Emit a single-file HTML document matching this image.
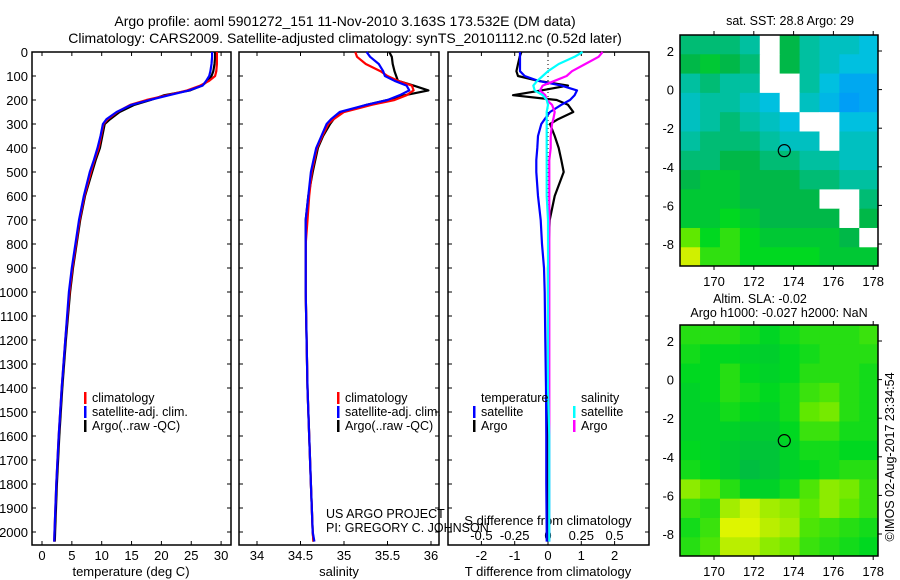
<!DOCTYPE html>
<html><head><meta charset="utf-8"><style>
body{margin:0;background:#fff;}
svg{display:block;font-family:"Liberation Sans",sans-serif;}
</style></head><body>
<svg id="c" width="900" height="580" viewBox="0 0 900 580" xmlns="http://www.w3.org/2000/svg">
<text x="345" y="26" font-size="14" text-anchor="middle">Argo profile: aoml 5901272_151 11-Nov-2010 3.163S 173.532E (DM data)</text>
<text x="345" y="43" font-size="14" text-anchor="middle">Climatology: CARS2009. Satellite-adjusted climatology: synTS_20101112.nc (0.52d later)</text>
<g id="g"></g>
</svg>
<script>
// ---- data ----
const depths=[0,20,50,80,100,120,140,160,180,200,220,250,280,300,350,400,450,500,600,700,800,900,1000,1200,1400,1600,1800,2000,2040];
const tempArgo=[29.0,29.0,28.9,28.7,28.4,27.8,26.8,24.8,20.5,18.2,15.5,13.0,11.4,10.5,10.1,9.7,9.0,8.4,7.2,6.4,5.8,5.2,4.7,4.0,3.4,2.9,2.5,2.2,2.15];
const tempClim=[29.3,29.3,29.3,29.2,29.0,28.0,26.5,24.3,21.0,17.5,14.8,12.6,11.0,10.3,9.9,9.5,8.8,8.2,7.1,6.3,5.7,5.1,4.6,3.9,3.3,2.8,2.4,2.1,2.05];
const tempSat=[28.5,28.5,28.4,28.2,28.0,27.5,26.9,24.6,21.3,18.0,15.0,12.5,10.8,10.2,9.8,9.3,8.7,8.0,7.0,6.2,5.6,5.0,4.5,3.9,3.3,2.8,2.4,2.1,2.05];
const salArgo=[35.52,35.55,35.56,35.58,35.60,35.62,35.80,35.97,35.70,35.50,35.26,34.98,34.88,34.84,34.76,34.70,34.67,34.64,34.59,34.56,34.56,34.56,34.56,34.57,34.58,34.60,34.62,34.64,34.65];
const salClim=[35.13,35.15,35.25,35.42,35.50,35.62,35.78,35.80,35.72,35.58,35.32,35.0,34.88,34.82,34.75,34.69,34.66,34.63,34.60,34.58,34.56,34.56,34.56,34.57,34.58,34.60,34.62,34.64,34.65];
const salSat=[35.26,35.30,35.40,35.45,35.47,35.58,35.72,35.75,35.64,35.50,35.26,34.95,34.85,34.80,34.74,34.68,34.65,34.62,34.59,34.56,34.56,34.56,34.56,34.57,34.58,34.60,34.62,34.64,34.66];
const dTsat=[-0.84,-0.84,-0.84,-0.84,-0.7,-0.3,0.4,0.87,0.8,0.66,0.4,0.06,-0.1,-0.2,-0.3,-0.32,-0.35,-0.35,-0.3,-0.22,-0.18,-0.12,-0.1,-0.08,-0.06,-0.05,-0.05,-0.04,-0.04];
const dTargo=[-0.8,-0.85,-0.9,-0.95,-0.9,-0.3,0.6,-0.2,-1.05,0.26,0.6,0.76,0.3,0.06,0.2,0.32,0.4,0.47,0.2,0.05,0.02,0.0,0.0,0.0,0.0,0.0,0.0,0.0,0.0];
const dSsat=[0.26,0.2,0.08,0.0,-0.04,-0.08,-0.11,-0.1,-0.04,-0.01,0.0,-0.01,-0.01,-0.01,-0.01,-0.01,-0.01,-0.01,-0.01,0.0,0.0,0.0,0.0,0.0,0.0,0.01,0.01,0.01,0.01];
const dSargo=[0.41,0.38,0.28,0.18,0.14,0.05,-0.04,-0.06,-0.02,-0.01,0.03,0.05,0.04,0.03,0.02,0.02,0.01,0.01,0.01,0.01,0.01,0.01,0.01,0.01,0.01,0.01,0.01,0.01,0.01];
const depthTicks=[0,100,200,300,400,500,600,700,800,900,1000,1100,1200,1300,1400,1500,1600,1700,1800,1900,2000];
const tempTicks=[0,5,10,15,20,25,30];
const salTicks=[34,34.5,35,35.5,36];
const dTTicks=[-2,-1,0,1,2];
const dSTicks=[-0.5,-0.25,0,0.25,0.5];
const lonTicks=[170,172,174,176,178];
const latTicks=[2,0,-2,-4,-6,-8];
const sstGrid=[
[0.55,0.55,0.55,0.5,NaN,0.6,0.5,0.45,0.45,0.4],
[0.6,0.65,0.6,0.55,NaN,0.6,0.5,0.45,0.4,0.4],
[0.5,0.55,0.5,0.5,NaN,NaN,0.5,0.4,0.35,0.35],
[0.45,0.5,0.5,0.45,0.4,NaN,0.45,0.38,0.33,0.35],
[0.45,0.5,0.55,0.5,0.45,0.4,NaN,NaN,0.4,0.4],
[0.5,0.55,0.55,0.55,0.5,0.45,0.45,NaN,0.45,0.45],
[0.55,0.55,0.6,0.6,0.55,0.55,0.5,0.5,0.45,0.45],
[0.6,0.65,0.65,0.6,0.6,0.6,0.55,0.55,0.5,0.5],
[0.65,0.65,0.65,0.6,0.6,0.6,0.6,NaN,NaN,0.55],
[0.65,0.65,0.7,0.65,0.6,0.6,0.6,0.6,NaN,0.6],
[0.8,0.7,0.75,0.7,0.65,0.65,0.65,0.65,0.6,NaN],
[0.9,0.75,0.75,0.7,0.7,0.7,0.7,0.65,0.65,0.65]];
const slaGrid=[
[0.74,0.74,0.74,0.72,0.69,0.72,0.74,0.74,0.74,0.76],
[0.72,0.70,0.70,0.68,0.67,0.70,0.72,0.74,0.74,0.74],
[0.70,0.70,0.74,0.70,0.68,0.70,0.74,0.74,0.74,0.72],
[0.68,0.70,0.74,0.72,0.70,0.72,0.76,0.78,0.74,0.72],
[0.68,0.68,0.72,0.70,0.68,0.72,0.80,0.82,0.74,0.72],
[0.68,0.68,0.68,0.66,0.66,0.70,0.76,0.76,0.72,0.72],
[0.70,0.68,0.66,0.64,0.64,0.68,0.72,0.72,0.70,0.70],
[0.72,0.70,0.66,0.62,0.64,0.68,0.70,0.72,0.74,0.74],
[0.84,0.80,0.74,0.68,0.68,0.72,0.78,0.84,0.82,0.76],
[0.76,0.74,0.86,0.90,0.86,0.84,0.80,0.84,0.80,0.76],
[0.72,0.76,0.93,0.93,0.88,0.86,0.78,0.76,0.74,0.72],
[0.74,0.78,0.88,0.88,0.84,0.82,0.76,0.74,0.72,0.70]];
const argoLon=173.532, argoLat=-3.163;

const NS='http://www.w3.org/2000/svg';
const G=document.getElementById('g');
function mk(tag,attrs,parent){const e=document.createElementNS(NS,tag);for(const k in attrs)e.setAttribute(k,attrs[k]);(parent||G).appendChild(e);return e;}
function txt(x,y,s,size,anchor,parent){const t=mk('text',{x:x,y:y,'font-size':size,'text-anchor':anchor||'start'},parent);t.textContent=s;return t;}

const yTop=52, yPx=0.24;
const Y=d=>yTop+d*yPx;
const xT=v=>42+v*5.97;
const xS=v=>257+(v-34)*87;
const xDT=v=>548+v*33.3;
const xDS=v=>548+v*133.2;
const panels=[[32,231],[239,439],[448,649]];
const pBot=545;

panels.forEach((p,i)=>{
 const r=mk('rect',{x:p[0],y:yTop,width:p[1]-p[0],height:pBot-yTop,fill:'none',stroke:'#000','stroke-width':1.5});
 
 
 depthTicks.forEach(d=>{mk('line',{x1:p[0],x2:p[0]+4,y1:Y(d),y2:Y(d),stroke:'#000'});mk('line',{x1:p[1]-4,x2:p[1],y1:Y(d),y2:Y(d),stroke:'#000'});});
});
depthTicks.forEach(d=>{const t=txt(28,Y(d)+5,String(d),13,'end');
 
 });
function xticks(arr,fx,yLab){arr.forEach(v=>{const x=fx(v);mk('line',{x1:x,x2:x,y1:pBot-4,y2:pBot,stroke:'#000'});mk('line',{x1:x,x2:x,y1:yTop,y2:yTop+4,stroke:'#000'});
 const t=txt(x,yLab,String(v),13,'middle');
 
 });}
xticks(tempTicks,xT,560);xticks(salTicks,xS,560);xticks(dTTicks,xDT,560);
dSTicks.forEach(v=>{const t=txt(xDS(v),540,String(v),13,'middle');
 
 });
[[131,'temperature (deg C)'],[339,'salinity'],[548,'T difference from climatology']].forEach(a=>{const t=txt(a[0],576,a[1],13,'middle');
 
 });
{const t=txt(548,525,'S difference from climatology',13,'middle');
 
 }
mk('line',{x1:548,x2:548,y1:yTop,y2:pBot,stroke:'#000','stroke-dasharray':'1,3'});

function line(vals,fx,color,name){const pts=vals.map((v,i)=>fx(v).toFixed(1)+','+Y(depths[i]).toFixed(1)).join(' ');
 const l=mk('polyline',{points:pts,fill:'none',stroke:color,'stroke-width':2.2,'stroke-linejoin':'round'});
 
 }
line(tempArgo,xT,'#000','temp-argo-line');line(tempClim,xT,'#f00','temp-clim-line');line(tempSat,xT,'#00f','temp-sat-line');
line(salArgo,xS,'#000','sal-argo-line');line(salClim,xS,'#f00','sal-clim-line');line(salSat,xS,'#00f','sal-sat-line');
line(dTargo,xDT,'#000','dT-argo-line');line(dTsat,xDT,'#00f','dT-sat-line');line(dSargo,xDS,'#f0f','dS-argo-line');line(dSsat,xDS,'#0ff','dS-sat-line');

function legend(x,y,items,name){items.forEach((it,i)=>{const yy=y+i*14;mk('rect',{x:x,y:yy-10,width:2.5,height:12,fill:it[0]});
 const t=txt(x+8,yy,it[1],12.5,'start');
 
 });}
const L=[['#f00','climatology'],['#00f','satellite-adj. clim.'],['#000','Argo(..raw -QC)']];
legend(84,402,L,'temp-legend-entry');legend(337,402,L,'sal-legend-entry');
txt(481,402,'temperature',12.5);txt(581,402,'salinity',12.5);
legend(473,416,[['#00f','satellite'],['#000','Argo']],'tdiff-legend-entry');
legend(573,416,[['#0ff','satellite'],['#f0f','Argo']],'sdiff-legend-entry');
txt(326,518,'US ARGO PROJECT',12.5);txt(326,532,'PI: GREGORY C. JOHNSON',12.5);

const stops=[[0.3,[0,144,255]],[0.4,[0,192,224]],[0.5,[0,192,160]],[0.6,[0,184,72]],[0.7,[0,216,32]],[0.8,[96,232,0]],[0.9,[208,240,0]],[1,[255,255,0]]];
function col(v){if(isNaN(v))return '#fff';for(let i=1;i<stops.length;i++){if(v<=stops[i][0]){const a=stops[i-1],b=stops[i],t=Math.max(0,(v-a[0])/(b[0]-a[0]));return 'rgb('+a[1].map((c,k)=>Math.round(c+(b[1][k]-c)*t)).join(',')+')';}}return 'rgb(255,255,0)';}
function map(top,grid,name){
 const x0=680,x1=878,y0=top,y1=top+231;
 const lx=v=>714+(v-170)*19.9, ly=v=>top+16+(2-v)*19.3;
 const lonMin=168.3, latMax=2.83;
 grid.forEach((row,r)=>row.forEach((v,c)=>{
  const xa=Math.max(x0,lx(lonMin+c)),xb=Math.min(x1,lx(lonMin+c+1)),ya=Math.max(y0,ly(latMax-r)),yb=Math.min(y1,ly(latMax-r-1));
  const cell=mk('rect',{x:xa,y:ya,width:xb-xa+0.5,height:yb-ya+0.5,fill:col(v)});
  
  
 }));
 const f=mk('rect',{x:x0,y:y0,width:x1-x0,height:y1-y0,fill:'none',stroke:'#000','stroke-width':1.5});
 
 
 lonTicks.forEach(v=>{const x=lx(v);mk('line',{x1:x,x2:x,y1:y0-4,y2:y0,stroke:'#000'});mk('line',{x1:x,x2:x,y1:y1,y2:y1+4,stroke:'#000'});
  const t=txt(x,y1+20,String(v),13,'middle');
  
  });
 latTicks.forEach(v=>{const y=ly(v);mk('line',{x1:x1,x2:x1+4,y1:y,y2:y,stroke:'#000'});
  const t=txt(674,y+5,String(v),13,'end');
  
  });
 const c=mk('circle',{cx:lx(argoLon),cy:ly(argoLat),r:6,fill:'none',stroke:'#000','stroke-width':1.2});
 
 
}
map(35,sstGrid,'sst-map');map(325,slaGrid,'sla-map');
{const t=txt(790,25,'sat. SST: 28.8 Argo: 29',12.5,'middle');}
{const t=txt(760,303,'Altim. SLA: -0.02',12.5,'middle');}
{const t=txt(779,317,'Argo h1000: -0.027 h2000: NaN',12.5,'middle');}
{const t=txt(0,0,'©IMOS 02-Aug-2017 23:34:54',12.5,'middle');t.setAttribute('transform','translate(894,457) rotate(-90)');}
</script>
</body></html>
